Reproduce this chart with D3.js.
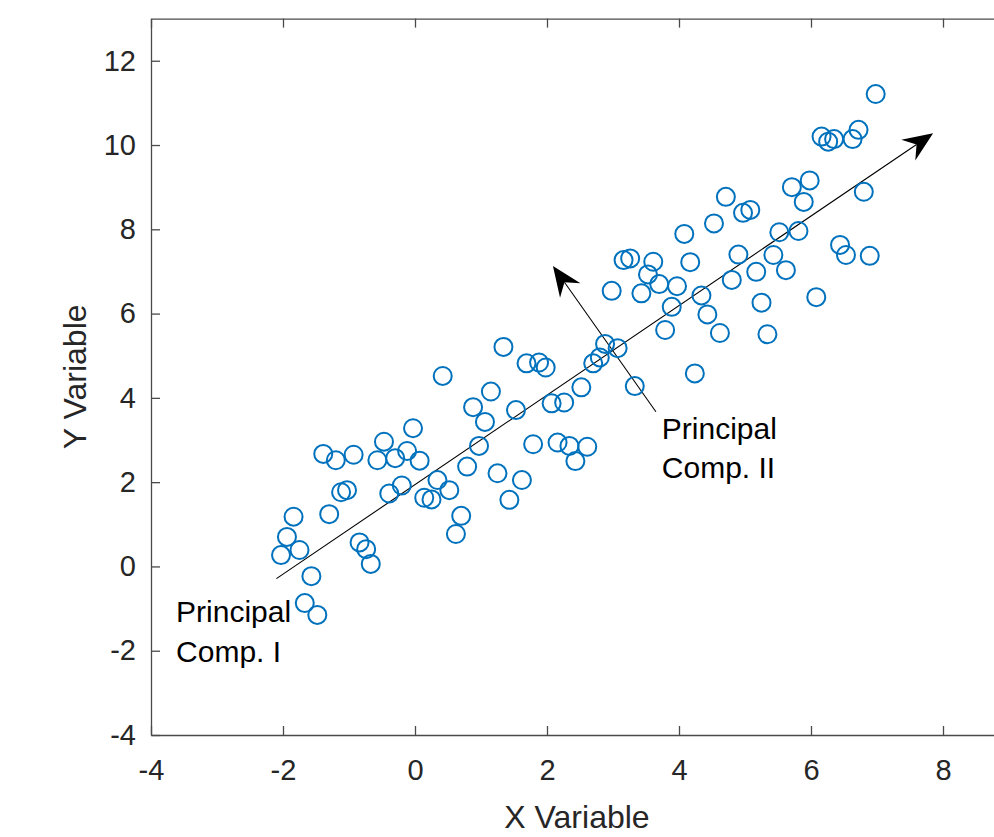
<!DOCTYPE html>
<html>
<head>
<meta charset="utf-8">
<script src="https://cdn.jsdelivr.net/npm/d3@7"></script>
<style>
  body { margin: 0; background: #fff; }
  svg { display: block; }
  text { font-family: "Liberation Sans", Arial, sans-serif; fill: #262626; }
</style>
</head>
<body>
<svg id="chart"></svg>
<script>
// scatter data
const xValues = [
  -2.03, -1.94, -1.84, -1.75, -1.57, -1.67, -1.48, -1.39, -1.20, -0.93,
  -1.30, -1.12, -1.03, -0.84, -0.74, -0.67, -0.47, -0.57, -0.30, -0.39,
  -0.20, -0.12, -0.03, 0.07, 0.42, 0.14, 0.25, 0.34, 0.52, 0.70,
  0.62, 0.79, 0.88, 0.97, 1.06, 1.15, 1.25, 1.34, 1.43, 1.53,
  1.62, 1.69, 1.79, 1.88, 1.98, 2.07, 2.26, 2.16, 2.34, 2.43,
  2.61, 2.52, 2.70, 2.80, 2.88, 3.07, 2.98, 3.33, 3.16, 3.26,
  3.43, 3.53, 3.61, 3.70, 3.79, 3.89, 3.97, 4.08, 4.17, 4.24,
  4.34, 4.43, 4.53, 4.62, 4.71, 4.80, 4.90, 4.97, 5.08, 5.17,
  5.25, 5.34, 5.43, 5.52, 5.62, 5.71, 5.81, 5.89, 5.98, 6.08,
  6.16, 6.26, 6.35, 6.44, 6.53, 6.63, 6.72, 6.80, 6.89, 6.98
];
const yValues = [
  0.27, 0.70, 1.18, 0.39, -0.23, -0.87, -1.15, 2.67, 2.52, 2.65,
  1.24, 1.76, 1.81, 0.57, 0.41, 0.06, 2.96, 2.52, 2.57, 1.73,
  1.92, 2.74, 3.28, 2.51, 4.52, 1.63, 1.59, 2.05, 1.81, 1.20,
  0.77, 2.37, 3.78, 2.86, 3.43, 4.15, 2.21, 5.21, 1.58, 3.71,
  2.05, 4.82, 2.90, 4.84, 4.72, 3.87, 3.89, 2.94, 2.86, 2.50,
  2.84, 4.25, 4.82, 4.96, 5.28, 5.18, 6.54, 4.28, 7.27, 7.31,
  6.48, 6.93, 7.23, 6.70, 5.61, 6.16, 6.65, 7.89, 7.22, 4.58,
  6.43, 5.98, 8.14, 5.54, 8.77, 6.80, 7.40, 8.39, 8.46, 6.99,
  6.26, 5.51, 7.39, 7.93, 7.03, 9.00, 7.96, 8.65, 9.16, 6.39,
  10.20, 10.08, 10.14, 7.63, 7.39, 10.14, 10.36, 8.89, 7.37, 11.21
];

// principal component arrows: [start, end] in data units
const pcOne = [[-2.10, -0.29], [7.85, 10.28]];
const pcTwo = [[3.65, 3.67], [2.09, 7.13]];

const xTicks = [-4, -2, 0, 2, 4, 6, 8];
const yTicks = [-4, -2, 0, 2, 4, 6, 8, 10, 12];

// labels: text lines + anchor in data units
const labelOne = { lines: ["Principal", "Comp. I"], at: [-3.62, -1.32] };
const labelTwo = { lines: ["Principal", "Comp. II"], at: [3.74, 3.03] };

const width = 994;
const height = 837;
const blue = "#0072BD";
const axisColor = "#4a4a4a";

const svg = d3.select("#chart").attr("width", width).attr("height", height);

const x = d3.scaleLinear().domain([-4, 9]).range([151, 1009]);
const y = d3.scaleLinear().domain([-4, 13]).range([735, 18.6]);

// plain hyphen for negatives, like the original
const fmt = d => String(d);

// axes, MATLAB-like inward ticks
const axisBottom = d3.axisBottom(x).tickValues(xTicks).tickFormat(fmt).tickSizeInner(-9).tickSizeOuter(0).tickPadding(24);
const axisTop = d3.axisTop(x).tickValues(xTicks).tickSizeInner(-9).tickSizeOuter(0).tickFormat("");
const axisLeft = d3.axisLeft(y).tickValues(yTicks).tickFormat(fmt).tickSizeInner(-9).tickSizeOuter(0).tickPadding(15);

function styleAxis(g) {
    g.select(".domain").attr("stroke", axisColor).attr("stroke-width", 1.3);
    g.selectAll(".tick line").attr("stroke", axisColor).attr("stroke-width", 1.3);
    g.selectAll(".tick text")
        .attr("font-size", 29)
        .attr("fill", "#262626")
        .style("font-family", '"Liberation Sans", Arial, sans-serif');
}

svg.append("g").attr("transform", `translate(0,${y(-4)})`).call(axisBottom).call(styleAxis);
svg.append("g").attr("transform", `translate(0,${y(13)})`).call(axisTop).call(styleAxis);
svg.append("g").attr("transform", `translate(${x(-4)},0)`).call(axisLeft).call(styleAxis);

// axis titles
svg.append("text")
    .attr("x", (x(-4) + x(9)) / 2 - 3)
    .attr("y", 828)
    .attr("text-anchor", "middle")
    .attr("font-size", 32)
    .text("X Variable");

svg.append("text")
    .attr("transform", `translate(86,${(y(-4) + y(13)) / 2}) rotate(-90)`)
    .attr("text-anchor", "middle")
    .attr("font-size", 32)
    .text("Y Variable");

// arrow with a notched filled head
function arrow(g, [p0, p1]) {
    const x0 = x(p0[0]), y0 = y(p0[1]);
    const x1 = x(p1[0]), y1 = y(p1[1]);
    const len = Math.hypot(x1 - x0, y1 - y0);
    const ux = (x1 - x0) / len, uy = (y1 - y0) / len;
    const px = -uy, py = ux;
    const headLen = 30, half = 12.5, notch = 20;

    g.append("line")
        .attr("x1", x0).attr("y1", y0)
        .attr("x2", x1 - ux * notch).attr("y2", y1 - uy * notch)
        .attr("stroke", "#000")
        .attr("stroke-width", 1.1);

    const head = [
        [x1, y1],
        [x1 - ux * headLen + px * half, y1 - uy * headLen + py * half],
        [x1 - ux * notch, y1 - uy * notch],
        [x1 - ux * headLen - px * half, y1 - uy * headLen - py * half]
    ];
    g.append("path")
        .attr("d", "M" + head.join("L") + "Z")
        .attr("fill", "#000");
}

const arrows = svg.append("g");
arrow(arrows, pcOne);
arrow(arrows, pcTwo);

// scatter markers
svg.append("g")
    .selectAll("circle")
    .data(d3.zip(xValues, yValues))
    .join("circle")
    .attr("cx", d => x(d[0]))
    .attr("cy", d => y(d[1]))
    .attr("r", 9)
    .attr("fill", "none")
    .attr("stroke", blue)
    .attr("stroke-width", 2);

// annotation labels
for (const lab of [labelOne, labelTwo]) {
    svg.append("text")
        .attr("font-size", 30)
        .style("fill", "#000")
        .selectAll("tspan")
        .data(lab.lines)
        .join("tspan")
        .attr("x", x(lab.at[0]))
        .attr("y", (d, i) => y(lab.at[1]) + i * 39.5)
        .text(d => d);
}
</script>
</body>
</html>
